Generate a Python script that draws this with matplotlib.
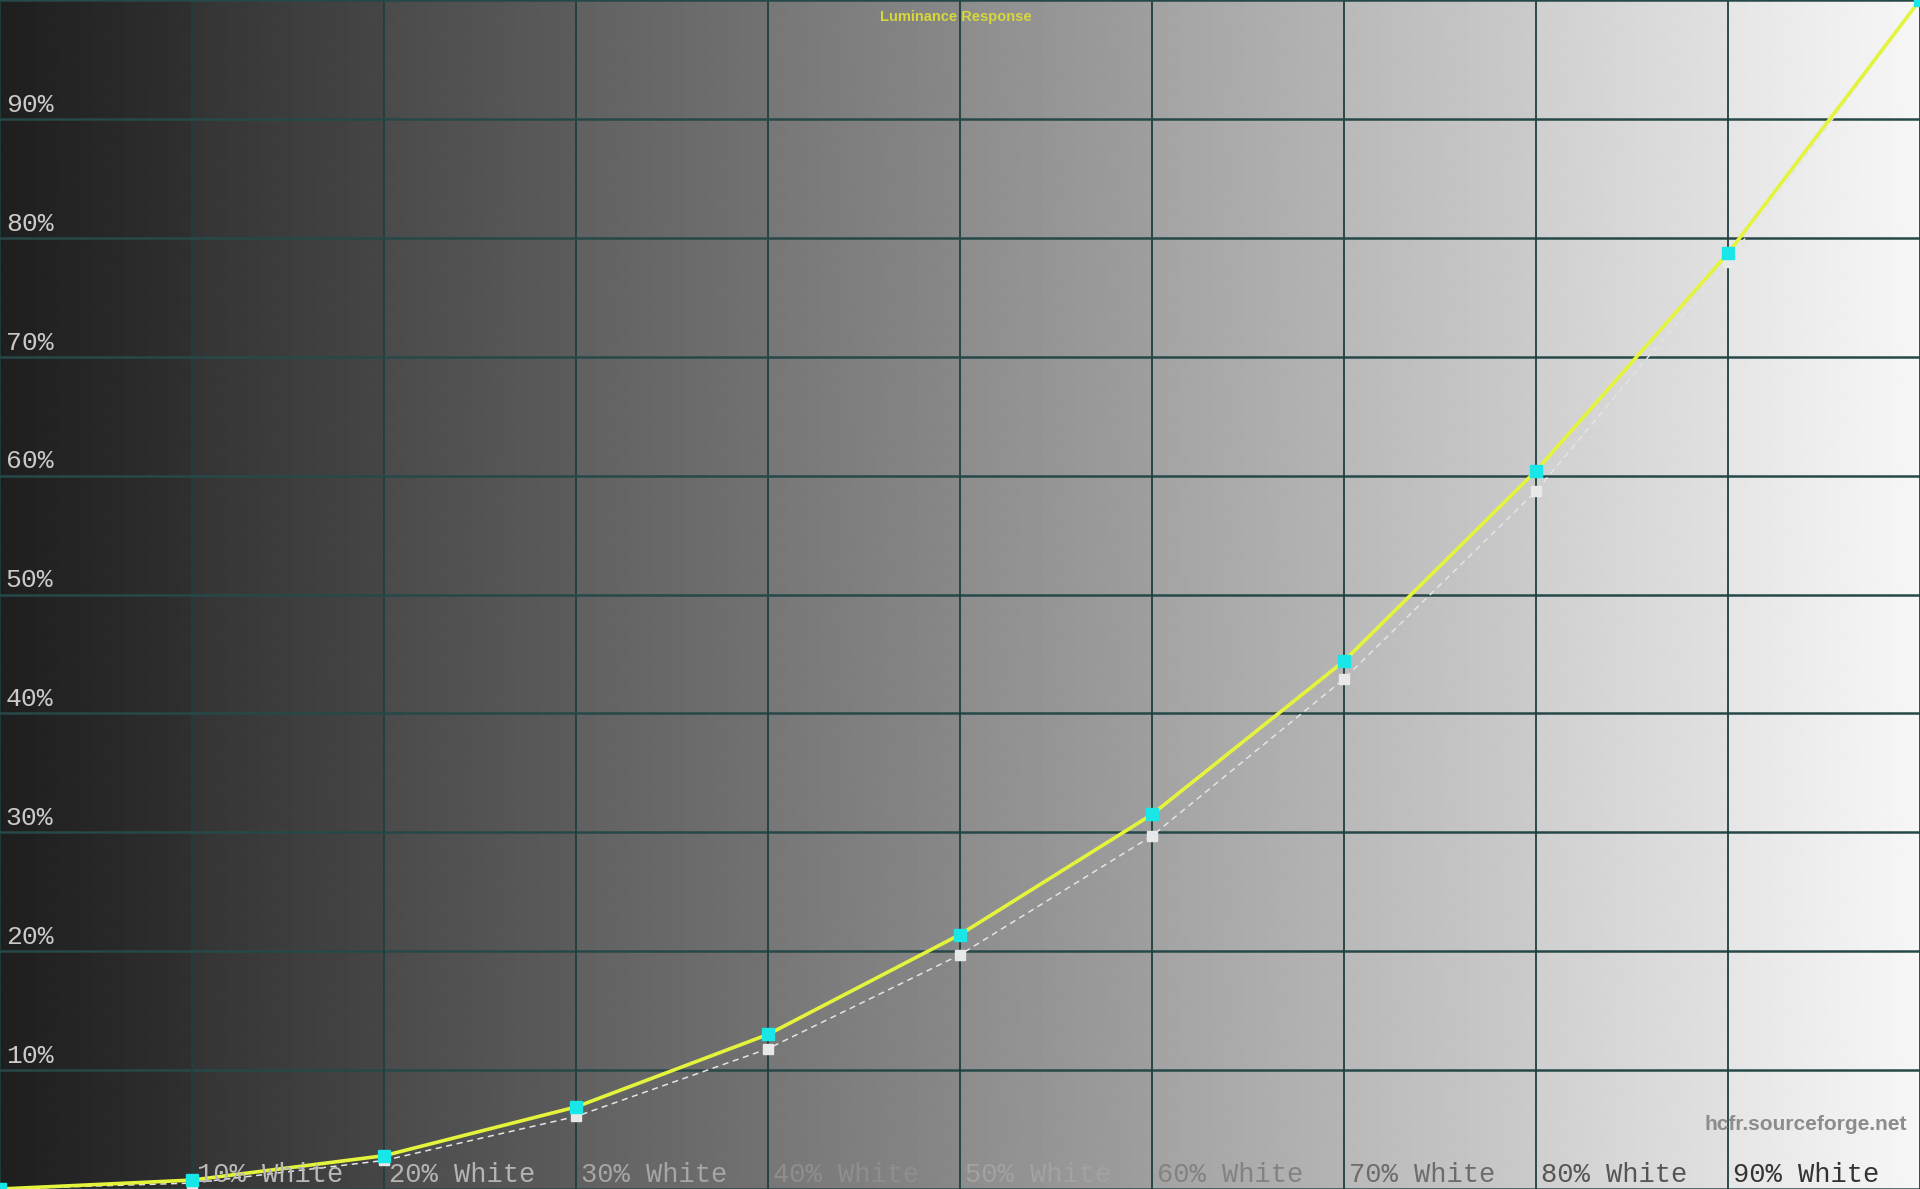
import numpy as np
import matplotlib
matplotlib.use("Agg")
import matplotlib.pyplot as plt

# stimulus levels (% white) and luminance (%)
levels = [0, 10, 20, 30, 40, 50, 60, 70, 80, 90, 100]
measured = [0, 0.75, 2.8, 6.9, 13.0, 21.4, 31.5, 44.4, 60.4, 78.7, 100]
reference = [0, 0.5, 2.4, 6.1, 11.8, 19.7, 29.7, 42.9, 58.7, 78.0, 100]

y_ticks = [10, 20, 30, 40, 50, 60, 70, 80, 90]
y_tick_labels = ["10%", "20%", "30%", "40%", "50%", "60%", "70%", "80%", "90%"]
x_labels = ["10% White", "20% White", "30% White", "40% White", "50% White",
            "60% White", "70% White", "80% White", "90% White"]
x_label_colors = ["#bababa", "#b4b4b4", "#a6a6a6", "#8e8e8e", "#a2a2a2",
                  "#828282", "#6c6c6c", "#555555", "#333333"]

fig = plt.figure(figsize=(19.2, 11.89), dpi=100)
ax = fig.add_axes([0, 0, 1, 1])
ax.set_xlim(0, 100)
ax.set_ylim(0, 100)
ax.axis("off")

# grey ramp background, a soft gradient in each column
xs = np.linspace(0, 100, 1920)
col = np.minimum(xs // 10, 9)
frac = xs / 10 - col
grey = 0.12 + 0.0865 * col + 0.068 * frac
grey = np.clip(grey, 0, 1)
img = np.tile(grey, (10, 1))
ax.imshow(img, cmap="gray", vmin=0, vmax=1, extent=[0, 100, 0, 100],
          aspect="auto", interpolation="bilinear", zorder=0)

for v in range(0, 101, 10):
    ax.axhline(v, color="#274848", lw=1.8, zorder=1)
    ax.axvline(v, color="#1f3f3f", lw=1.3, zorder=1)

ax.plot(levels, reference, color="#e4e4e4", lw=1.1, ls=(0, (4, 3)),
        marker="s", ms=7.5, mfc="#e8e8e8", mec="#e8e8e8", zorder=3,
        clip_on=False)
ax.plot(levels, measured, color="#e4f43c", lw=2.6, marker="s", ms=8,
        mfc="#19e6e6", mec="#19e6e6", zorder=4, clip_on=False)

for v, t in zip(y_ticks, y_tick_labels):
    ax.text(0.3, v + 0.6, t, color="#cacaca", fontsize=19,
            family="Liberation Mono", ha="left", va="baseline", zorder=5)

for v, t, c in zip(levels[1:10], x_labels, x_label_colors):
    ax.text(v + 0.25, 0.6, t, color=c, fontsize=19.5,
            family="Liberation Mono", ha="left", va="baseline", zorder=5)

ax.text(49.8, 98.6, "Luminance Response", color="#d6d83a", fontsize=10.5,
        fontweight="bold", family="Liberation Sans", ha="center",
        va="center", zorder=5)
ax.text(99.3, 5.4, "hcfr.sourceforge.net", color="#8c8c8c", fontsize=15,
        fontweight="bold", family="Liberation Sans", ha="right",
        va="center", zorder=5)

fig.savefig("out.png", dpi=100)
